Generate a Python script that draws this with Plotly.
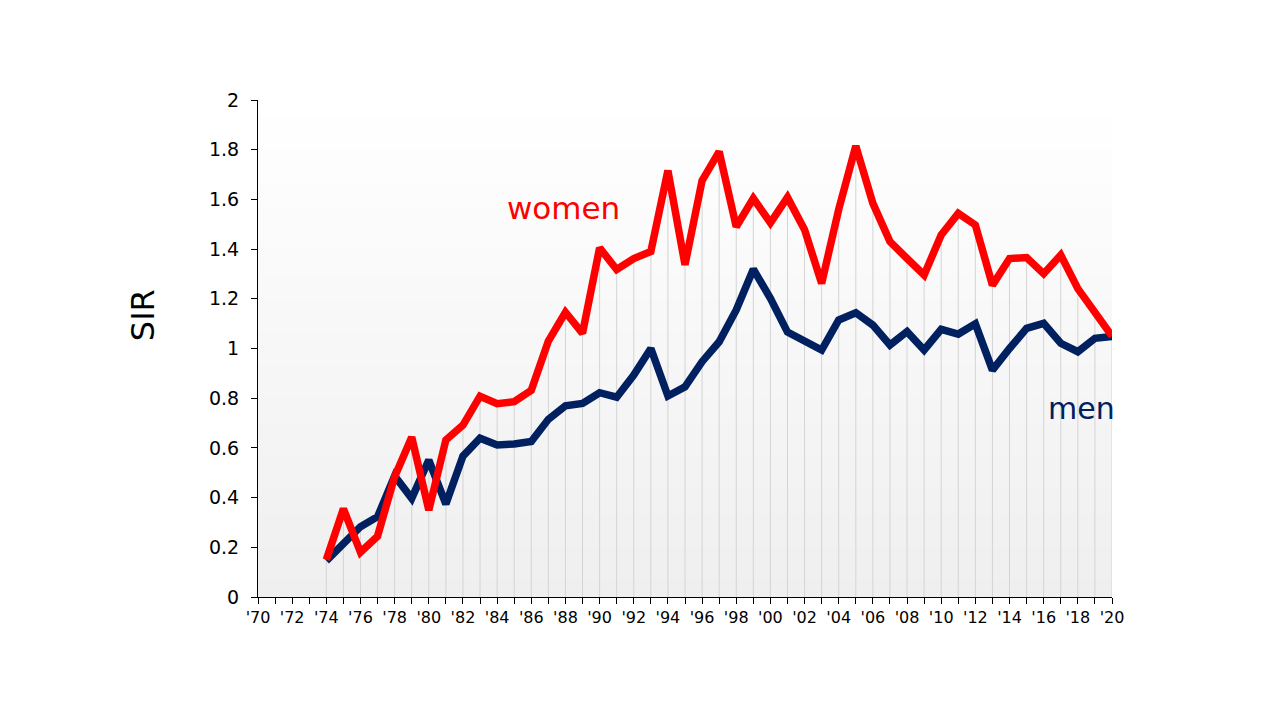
import numpy as np
import plotly.graph_objects as go

years = list(range(1974, 2021))
women = [0.15, 0.355, 0.18, 0.245, 0.484, 0.643, 0.35, 0.632, 0.692, 0.808, 0.778, 0.786, 0.832,
         1.03, 1.146, 1.061, 1.405, 1.318, 1.362, 1.39, 1.716, 1.337, 1.676, 1.792, 1.49, 1.604,
         1.506, 1.608, 1.478, 1.262, 1.56, 1.815, 1.584, 1.43, 1.362, 1.296, 1.457, 1.544, 1.497,
         1.255, 1.362, 1.366, 1.301, 1.376, 1.241, 1.147, 1.05]
men = [0.146, 0.216, 0.283, 0.323, 0.487, 0.397, 0.551, 0.374, 0.567, 0.639, 0.612, 0.616, 0.626,
       0.715, 0.769, 0.779, 0.822, 0.804, 0.893, 1.0, 0.809, 0.846, 0.947, 1.027, 1.155, 1.319,
       1.202, 1.066, 1.034, 0.994, 1.115, 1.144, 1.094, 1.014, 1.068, 0.994, 1.077, 1.058, 1.099,
       0.913, 1.0, 1.081, 1.101, 1.021, 0.987, 1.041, 1.048]

x_tickvals = list(range(1970, 2021, 2))
x_ticktext = ["'" + str(y)[2:] for y in x_tickvals]
y_tickvals = [0, 0.2, 0.4, 0.6, 0.8, 1, 1.2, 1.4, 1.6, 1.8, 2]
y_ticktext = ["0", "0.2", "0.4", "0.6", "0.8", "1", "1.2", "1.4", "1.6", "1.8", "2"]

FONT = "DejaVu Sans"
RED = "#FF0000"
NAVY = "#002060"

fig = go.Figure()

# gradient plot-area background
n = 60
y_edges = np.linspace(0, 2, n + 1)
z = [[i / (n - 1)] for i in range(n)]
fig.add_trace(go.Heatmap(
    x=[1970, 2020], y=y_edges, z=z,
    colorscale=[[0, "#efefef"], [1, "#ffffff"]],
    showscale=False, hoverinfo="skip",
))

# drop lines from the higher series down to the axis
dx, dy = [], []
for yr, w, m in zip(years, women, men):
    dx += [yr, yr, None]
    dy += [0, max(w, m), None]
fig.add_trace(go.Scatter(x=dx, y=dy, mode="lines",
                         line=dict(color="#d4d4d4", width=1),
                         hoverinfo="skip", showlegend=False))

fig.add_trace(go.Scatter(x=years, y=men, mode="lines", name="men",
                         line=dict(color=NAVY, width=7.5), showlegend=False))
fig.add_trace(go.Scatter(x=years, y=women, mode="lines", name="women",
                         line=dict(color=RED, width=7.5), showlegend=False))

fig.add_annotation(x=1987.9, y=1.565, text="women", showarrow=False,
                   font=dict(family=FONT, size=31, color=RED),
                   xanchor="center", yanchor="middle")
fig.add_annotation(x=2018.23, y=0.757, text="men", showarrow=False,
                   font=dict(family=FONT, size=30, color=NAVY),
                   xanchor="center", yanchor="middle")
fig.add_annotation(xref="paper", yref="paper", x=-0.1347, y=0.567, text="SIR",
                   showarrow=False, textangle=-90,
                   font=dict(family=FONT, size=32, color="#000000"),
                   xanchor="center", yanchor="middle")

fig.update_xaxes(range=[1970, 2020], tickvals=x_tickvals, ticktext=x_ticktext,
                 showgrid=False, zeroline=False, showline=True, linecolor="#000000",
                 linewidth=1, ticks="outside", ticklen=6, tickcolor="#000000",
                 minor=dict(dtick=1, tick0=1970, ticks="outside", ticklen=6,
                            tickcolor="#000000", showgrid=False),
                 tickfont=dict(family=FONT, size=16, color="#000000"))
fig.update_yaxes(range=[0, 2], tickvals=y_tickvals, ticktext=y_ticktext,
                 showgrid=False, zeroline=False, showline=True, linecolor="#000000",
                 linewidth=1, ticks="outside", ticklen=6, tickcolor="#000000",
                 ticklabelstandoff=8,
                 tickfont=dict(family=FONT, size=19, color="#000000"))

fig.update_layout(
    width=1280, height=720,
    margin=dict(l=258, r=168, t=100, b=123),
    paper_bgcolor="#ffffff", plot_bgcolor="#ffffff",
    showlegend=False,
)

fig.write_html("out.html")
